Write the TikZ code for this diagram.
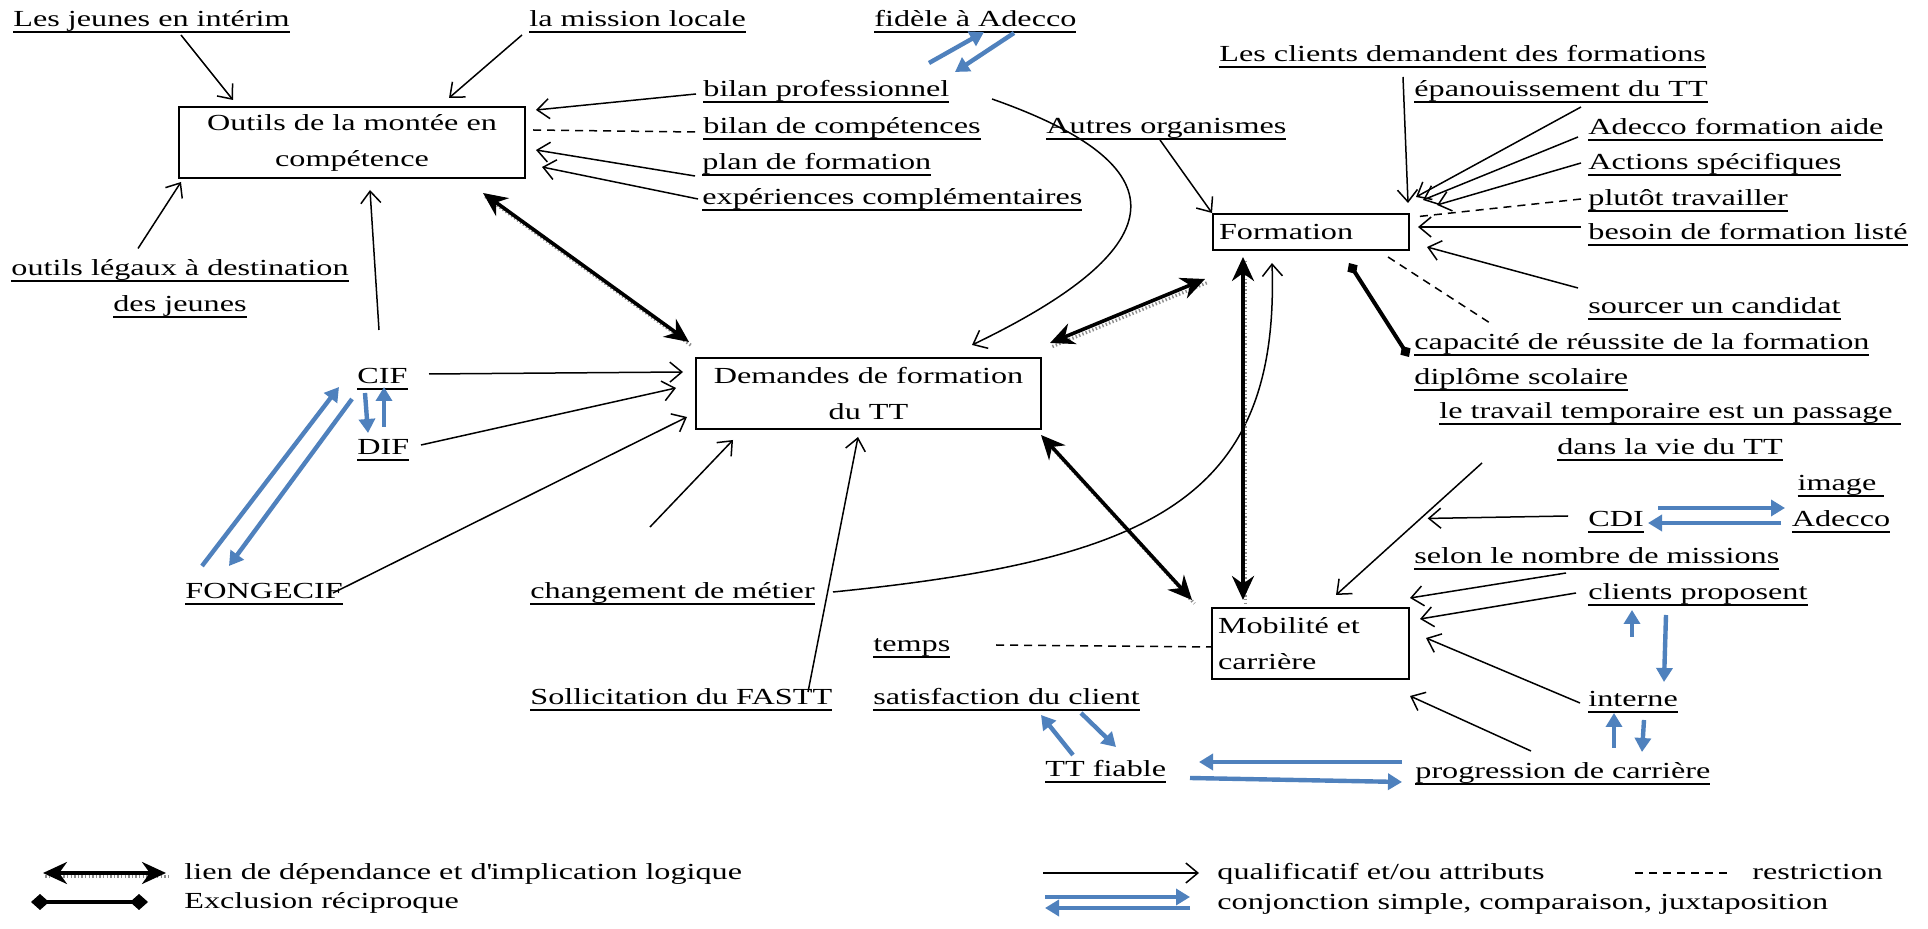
\documentclass[tikz,border=0pt]{standalone}
\usepackage{fontspec}
\setmainfont{Liberation Serif}[FakeStretch=1.4]
\usetikzlibrary{arrows.meta,calc}
\definecolor{conj}{RGB}{79,129,189}
\newsavebox\ulbox
\newcommand\ulx[1]{\sbox\ulbox{#1}\rlap{\rule[-3pt]{\wd\ulbox}{0.8pt}}\usebox\ulbox}
\tikzset{
  every node/.style={font=\fontsize{11.5}{18}\selectfont},
  lbl/.style={anchor=base west, inner sep=0pt},
  mlbl/.style={anchor=center, inner sep=0pt, align=center},
  box/.style={draw, line width=0.8pt, inner sep=0pt, align=center},
  lbox/.style={draw, line width=0.8pt, inner ysep=0pt, inner xsep=3pt, align=left},
  qual/.style={line width=0.75pt, -{Straight Barb[length=6pt,width=10pt]}},
  restr/.style={line width=0.75pt, dash pattern=on 4pt off 3pt},
  dep/.style={line width=1.8pt, {Stealth[length=12pt,width=11pt]}-{Stealth[length=12pt,width=11pt]},
    preaction={draw=black!45, line width=1.6pt, dash pattern=on 0.7pt off 1.1pt, arrows=-,
      transform canvas={shift={(1.2pt,-1.8pt)}}}},
  excl/.style={line width=2pt, {Turned Square[length=6.5pt,width=6pt]}-{Turned Square[length=6.5pt,width=6pt]}},
  bigexcl/.style={line width=2pt, {Turned Square[length=9pt,width=8pt]}-{Turned Square[length=9pt,width=8pt]}},
  conjarr/.style={conj, line width=2.2pt, -{Triangle[length=7pt,width=8pt]}},
}
\begin{document}
\begin{tikzpicture}[x=0.5pt,y=-0.5pt]
\fill[white] (0,0) rectangle (1928,929);
\useasboundingbox (0,0) rectangle (1928,929);

% boxes
\node[box, minimum width=173pt, minimum height=35.5pt] (outils) at (352,142.5) {Outils de la montée en\\compétence};
\node[box, minimum width=172.5pt, minimum height=35.5pt] (demandes) at (868.5,393.5) {Demandes de formation\\du TT};
\node[lbox, text width=92pt, minimum height=18pt] (formation) at (1311,232) {Formation};
\node[lbox, text width=92.5pt, minimum height=35.5pt] (mobilite) at (1310.5,643.5) {Mobilité et\\carrière};

% labels
\node[lbl] (jeunes) at (13,27) {\ulx{Les jeunes en intérim}};
\node[lbl] (mission) at (529,27) {\ulx{la mission locale}};
\node[lbl] (fidele) at (874,27) {\ulx{fidèle à Adecco}};
\node[lbl] (bilanpro) at (703,97) {\ulx{bilan professionnel}};
\node[lbl] (bilancomp) at (703,134) {\ulx{bilan de compétences}};
\node[lbl] (plan) at (702,170) {\ulx{plan de formation}};
\node[lbl] (exper) at (702,205) {\ulx{expériences complémentaires}};
\node[lbl] (autres) at (1046,134) {\ulx{Autres organismes}};
\node[lbl] (clients) at (1219,62) {\ulx{Les clients demandent des formations}};
\node[lbl] (epan) at (1414,97) {\ulx{épanouissement du TT}};
\node[lbl] (adeccofa) at (1588,135) {\ulx{Adecco formation aide}};
\node[lbl] (actions) at (1588,170) {\ulx{Actions spécifiques}};
\node[lbl] (plutot) at (1588,206) {\ulx{plutôt travailler}};
\node[lbl] (besoin) at (1588,240) {\ulx{besoin de formation listé}};
\node[lbl] (sourcer) at (1588,314) {\ulx{sourcer un candidat}};
\node[lbl] (capacite) at (1414,350) {\ulx{capacité de réussite de la formation}};
\node[lbl] (diplome) at (1414,385) {\ulx{diplôme scolaire}};
\node[mlbl] (travail) at (1670,432) {\ulx{le travail temporaire est un passage\ }\\\ulx{dans la vie du TT}};
\node[mlbl] (legaux) at (180,289) {\ulx{outils légaux à destination}\\\ulx{des jeunes}};
\node[lbl] (cif) at (357,384) {\ulx{CIF}};
\node[lbl] (dif) at (357,455) {\ulx{DIF}};
\node[lbl] (fongecif) at (185,599) {\ulx{FONGECIF}};
\node[lbl] (changement) at (530,599) {\ulx{changement de métier}};
\node[lbl] (sollicitation) at (530,705) {\ulx{Sollicitation du FASTT}};
\node[lbl] (temps) at (873,652) {\ulx{temps}};
\node[lbl] (satisf) at (873,705) {\ulx{satisfaction du client}};
\node[lbl] (ttfiable) at (1045,777) {\ulx{TT fiable}};
\node[lbl] (progression) at (1415,779) {\ulx{progression de carrière}};
\node[lbl] (interne) at (1588,707) {\ulx{interne}};
\node[lbl] (clientsprop) at (1588,600) {\ulx{clients proposent}};
\node[lbl] (selon) at (1414,564) {\ulx{selon le nombre de missions}};
\node[lbl] (cdi) at (1588,527) {\ulx{CDI}};
\node[mlbl] (imgadecco) at (1841,504) {\ulx{image\ }\\\ulx{Adecco}};

% qualificatif arrows
\draw[qual] ($(jeunes.base west)+(168,8)$) -- ($(outils.center)+(-119,-42.5)$);
\draw[qual] ($(mission.base west)+(-7,8)$) -- ($(outils.center)+(97,-44.5)$);
\draw[qual] ($(bilanpro.base west)+(-7,-3)$) -- ($(outils.center)+(184,-32.5)$);
\draw[restr] ($(bilancomp.base west)+(-8,-2)$) -- ($(outils.center)+(181,-12.5)$);
\draw[qual] ($(plan.base west)+(-7,6)$) -- ($(outils.center)+(184,7.5)$);
\draw[qual] ($(exper.base west)+(-4,-6)$) -- ($(outils.center)+(190,24.5)$);
\draw[qual] ($(legaux.center)+(-42,-40.5)$) -- ($(outils.center)+(-171,39.5)$);
\draw[qual] ($(cif.base west)+(22,-54)$) -- ($(outils.center)+(18,47.5)$);
\draw[qual] ($(bilanpro.base west)+(289,2)$) .. controls +(188,66) and +(208,-100) .. ($(demandes.center)+(103.5,-48.5)$);

\draw[qual] ($(autres.base west)+(114,6)$) -- ($(formation.center)+(-99,-19)$);
\draw[qual] ($(clients.base west)+(184,15)$) -- ($(formation.center)+(97,-29)$);
\draw[qual] ($(epan.base west)+(167,10)$) -- ($(formation.center)+(105,-35)$);
\draw[qual] ($(adeccofa.base west)+(-10,2)$) -- ($(formation.center)+(112,-32)$);
\draw[qual] ($(actions.base west)+(-7,-7)$) -- ($(formation.center)+(126,-27)$);
\draw[restr] ($(plutot.base west)+(-7,-7)$) -- ($(formation.center)+(103,-15)$);
\draw[qual] ($(besoin.base west)+(-7,-13)$) -- ($(formation.center)+(107,-5)$);
\draw[qual] ($(sourcer.base west)+(-10,-26)$) -- ($(formation.center)+(116,15)$);
\draw[restr] ($(formation.center)+(77,25)$) -- ($(capacite.base west)+(76,-27)$);
\draw[excl] ($(formation.center)+(38,31)$) -- ($(capacite.base west)+(-5,7)$);

\draw[qual] ($(travail.center)+(-188,31)$) -- coordinate[pos=0.42] (tmid) ($(mobilite.center)+(25.5,-48.5)$);
\draw[qual] ($(cdi.base west)+(-20,-11)$) -- ($(tmid)+(7,0)$);
\draw[qual] ($(selon.base west)+(152,9)$) -- ($(mobilite.center)+(99.5,-45.5)$);
\draw[qual] ($(clientsprop.base west)+(-12,-7)$) -- ($(mobilite.center)+(109.5,-24.5)$);
\draw[qual] ($(interne.base west)+(-8,-4)$) -- ($(mobilite.center)+(115.5,-5.5)$);
\draw[qual] ($(progression.base west)+(116,-28)$) -- ($(mobilite.center)+(99.5,52.5)$);
\draw[restr] ($(temps.base west)+(123,-7)$) -- ($(mobilite.center)+(-98.5,3.5)$);

\draw[qual] ($(cif.base west)+(72,-10)$) -- ($(demandes.center)+(-185.5,-21.5)$);
\draw[qual] ($(dif.base west)+(64,-10)$) -- ($(demandes.center)+(-192.5,-5.5)$);
\draw[qual] ($(fongecif.base west)+(148,-6)$) -- ($(demandes.center)+(-181.5,23.5)$);
\draw[qual] ($(changement.base west)+(120,-72)$) -- ($(demandes.center)+(-135.5,46.5)$);
\draw[qual] ($(sollicitation.base west)+(278,-13)$) -- ($(demandes.center)+(-10.5,43.5)$);
\draw[qual] ($(changement.base west)+(303,-7)$) .. controls +(317,-32) and +(8,237) .. ($(formation.center)+(-39,31)$);

% dependance arrows
\draw[dep] ($(outils.center)+(131,50.5)$) -- ($(demandes.center)+(-179.5,-51.5)$);
\draw[dep] ($(demandes.center)+(181.5,-50.5)$) -- ($(formation.center)+(-106,47)$);
\draw[dep] ($(formation.center)+(-68,25)$) -- ($(mobilite.center)+(-67.5,-43.5)$);
\draw[dep] ($(demandes.center)+(172.5,41.5)$) -- ($(mobilite.center)+(-118.5,-43.5)$);

% conjonction arrows
\draw[conjarr] ($(bilanpro.base west)+(226,-34)$) -- ($(fidele.base west)+(110,5)$);
\draw[conjarr] ($(fidele.base west)+(140,6)$) -- ($(bilanpro.base west)+(252,-25)$);
\draw[conjarr] ($(cif.base west)+(8,9)$) -- ($(dif.base west)+(11,-22)$);
\draw[conjarr] ($(dif.base west)+(27,-28)$) -- ($(cif.base west)+(27,3)$);
\draw[conjarr] ($(fongecif.base west)+(17,-33)$) -- ($(cif.base west)+(-18,3)$);
\draw[conjarr] ($(cif.base west)+(-5,15)$) -- ($(fongecif.base west)+(44,-33)$);
\draw[conjarr] ($(ttfiable.base west)+(28,-22)$) -- ($(satisf.base west)+(168,10)$);
\draw[conjarr] ($(satisf.base west)+(208,8)$) -- ($(ttfiable.base west)+(71,-30)$);
\draw[conjarr] ($(progression.base west)+(-13,-17)$) -- ($(ttfiable.base west)+(154,-15)$);
\draw[conjarr] ($(ttfiable.base west)+(145,1)$) -- ($(progression.base west)+(-13,3)$);
\draw[conjarr] ($(cdi.base west)+(70,-19)$) -- ($(imgadecco.center)+(-56,4)$);
\draw[conjarr] ($(imgadecco.center)+(-60,19)$) -- ($(cdi.base west)+(60,-4)$);
\draw[conjarr] ($(interne.base west)+(44,-70)$) -- ($(clientsprop.base west)+(44,10)$);
\draw[conjarr] ($(clientsprop.base west)+(78,15)$) -- ($(interne.base west)+(76,-25)$);
\draw[conjarr] ($(progression.base west)+(199,-31)$) -- ($(interne.base west)+(26,6)$);
\draw[conjarr] ($(interne.base west)+(56,13)$) -- ($(progression.base west)+(227,-27)$);

% legend
\coordinate (l1a) at (43,873); \coordinate (l1b) at (166,873);
\coordinate (l2a) at (31,902); \coordinate (l2b) at (148,902);
\coordinate (l3a) at (1043,873); \coordinate (l3b) at (1199,873);
\coordinate (l4a) at (1635,873); \coordinate (l4b) at (1728,873);
\coordinate (l5a) at (1045,897); \coordinate (l5b) at (1190,897);
\coordinate (l6a) at (1190,908); \coordinate (l6b) at (1045,908);
\draw[dep] (l1a) -- (l1b);
\draw[bigexcl] (l2a) -- (l2b);
\draw[qual] (l3a) -- (l3b);
\draw[restr] (l4a) -- (l4b);
\draw[conjarr] (l5a) -- (l5b);
\draw[conjarr] (l6a) -- (l6b);
\node[lbl] (leg1) at (184,879) {lien de dépendance et d\textquotesingle implication logique};
\node[lbl] (leg2) at (184,908) {Exclusion réciproque};
\node[lbl] (leg3) at (1217,879) {qualificatif et/ou attributs};
\node[lbl] (leg4) at (1752,879) {restriction};
\node[lbl] (leg5) at (1217,909) {conjonction simple, comparaison, juxtaposition};
\end{tikzpicture}
\end{document}
